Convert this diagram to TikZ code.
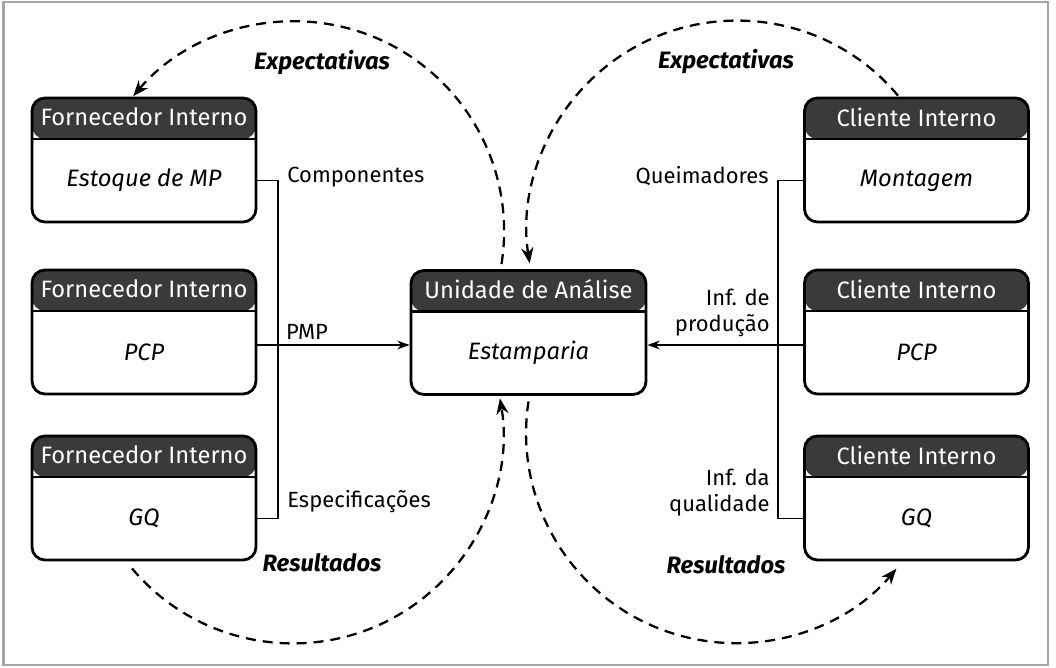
\documentclass[tikz,border=0pt]{standalone}
\usepackage{fontspec}
\setmainfont{Fira Sans}
\usetikzlibrary{arrows.meta}
\definecolor{cabeca}{RGB}{58,58,58}
\definecolor{moldura}{RGB}{165,165,165}

\tikzset{
  caixa/.style={draw, line width=1.6pt, rounded corners=0.26cm,
    minimum width=4.48cm, minimum height=2.48cm, inner sep=0pt,
    path picture={
      \fill[cabeca] (path picture bounding box.north west) rectangle ([yshift=-0.82cm]path picture bounding box.north east);
      \draw[line width=1.6pt] ([yshift=-0.82cm]path picture bounding box.north west) -- ([yshift=-0.82cm]path picture bounding box.north east);
    }},
  titulo/.style={text=white, inner sep=0pt, font=\fontsize{13.5}{16}\selectfont},
  corpo/.style={inner sep=0pt, font=\fontsize{13.5}{16}\selectfont\itshape},
  rotulo/.style={inner sep=0pt, font=\fontsize{12.5}{14.7}\selectfont},
  fluxo/.style={inner sep=0pt, font=\fontsize{13.5}{16}\selectfont\bfseries\itshape},
  liga/.style={line width=1pt},
  seta/.style={line width=1pt, -{Stealth[length=7pt,width=5pt]}},
  retorno/.style={line width=1.3pt, dash pattern=on 0.2cm off 0.14cm, -{Stealth[length=9pt,width=7pt]}},
}

\begin{document}
\begin{tikzpicture}

\useasboundingbox (0,0) rectangle (21.12,13.36);
\draw[moldura, line width=1.4pt] (0.07,0.06) rectangle (20.96,13.32);

% fornecedores internos
\foreach \n/\y/\txt in {1/10.16/Estoque de MP, 2/6.72/PCP, 3/3.40/GQ}{
  \node[caixa] (f\n) at (2.88,\y) {};
  \node[titulo] (tf\n) at ([yshift=-0.41cm]f\n.north) {Fornecedor Interno};
  \node[corpo] (cf\n) at ([yshift=-0.41cm]f\n.center) {\txt};
}

% clientes internos
\foreach \n/\y/\txt in {1/10.16/Montagem, 2/6.72/PCP, 3/3.40/GQ}{
  \node[caixa] (g\n) at (18.33,\y) {};
  \node[titulo] (tg\n) at ([yshift=-0.41cm]g\n.north) {Cliente Interno};
  \node[corpo] (cg\n) at ([yshift=-0.41cm]g\n.center) {\txt};
}

% unidade de analise
\node[caixa, minimum width=4.70cm] (ua) at (10.57,6.71) {};
\node[titulo] (tua) at ([yshift=-0.41cm]ua.north) {Unidade de Análise};
\node[corpo] (cua) at ([yshift=-0.41cm]ua.center) {Estamparia};

% entradas
\coordinate (eixoE) at (5.56,6.46);
\draw[liga] (f1.east |- cf1) -| (eixoE) |- (f3.east |- cf3);
\draw[seta] (f2.east |- eixoE) -- (ua.west |- eixoE);
\node[rotulo, anchor=west] (lcomp) at (5.74,9.82) {Componentes};
\node[rotulo] (lpmp) at (6.14,6.72) {PMP};
\node[rotulo, anchor=west] (lesp) at (5.74,3.32) {Especificações};

% saidas
\coordinate (eixoD) at (15.56,6.46);
\draw[liga] (g1.west |- cg1) -| (eixoD) |- (g3.west |- cg3);
\draw[seta] (g2.west |- eixoD) -- (ua.east |- eixoD);
\node[rotulo, anchor=east] (lqueim) at (15.38,9.84) {Queimadores};
\node[rotulo, anchor=east, align=right] (lprod) at (15.40,7.10) {Inf. de\\produção};
\node[rotulo, anchor=east, align=right] (lqual) at (15.40,3.50) {Inf. da\\qualidade};

% expectativas e resultados
\draw[retorno] ([xshift=-0.54cm,yshift=0.1cm]ua.north) arc[start angle=-9, end angle=140, radius=4.2cm];
\draw[retorno] ([xshift=-0.37cm,yshift=0.02cm]g1.north) arc[start angle=40, end angle=189, radius=4.2cm];
\draw[retorno] ([xshift=-0.24cm,yshift=-0.14cm]f3.south) arc[start angle=220, end angle=369.6, radius=4.2cm];
\draw[retorno] ([yshift=-0.11cm]ua.south) arc[start angle=171.3, end angle=319.8, radius=4.2cm];

\node[fluxo] (expE) at (6.44,12.10) {Expectativas};
\node[fluxo] (expD) at (14.52,12.12) {Expectativas};
\node[fluxo] (resE) at (6.44,2.10) {Resultados};
\node[fluxo] (resD) at (14.52,2.06) {Resultados};

\end{tikzpicture}
\end{document}
